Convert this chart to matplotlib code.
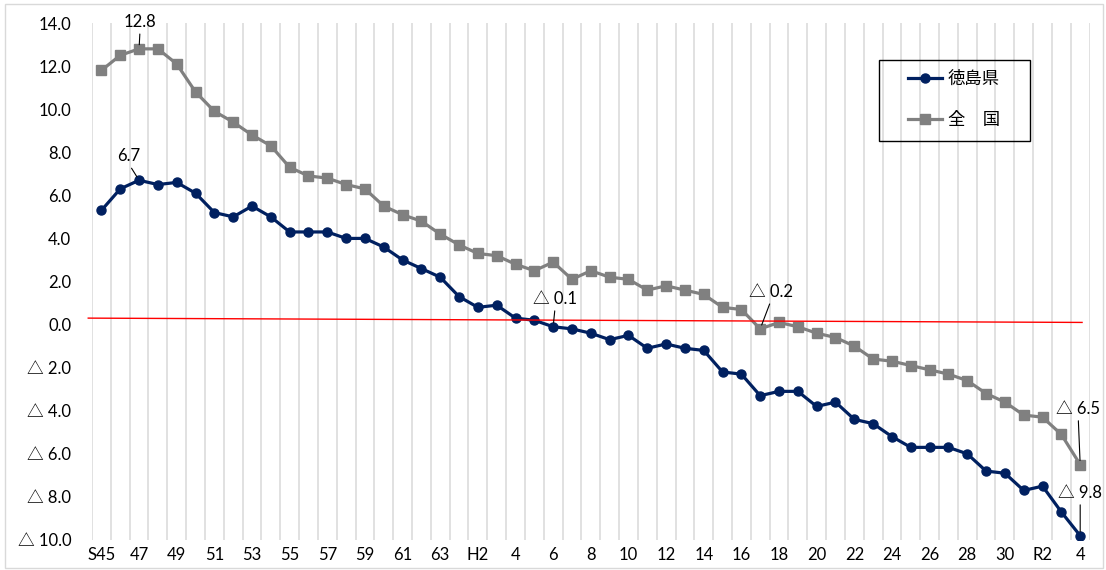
import matplotlib
matplotlib.use("Agg")
import matplotlib.pyplot as plt
from matplotlib.patches import Rectangle
from matplotlib.lines import Line2D

plt.rcParams['font.family'] = ['Lato', 'Noto Sans CJK JP', 'DejaVu Sans']

# ---- data ----
categories = (['S%d' % y for y in range(45, 64)] +
              ['H%d' % y for y in range(1, 31)] +
              ['R%d' % y for y in range(1, 5)])
tick_labels = ['S45', '47', '49', '51', '53', '55', '57', '59', '61', '63',
               'H2', '4', '6', '8', '10', '12', '14', '16', '18', '20', '22',
               '24', '26', '28', '30', 'R2', '4']
tokushima = [5.3, 6.3, 6.7, 6.5, 6.6, 6.1, 5.2, 5.0, 5.5, 5.0,
             4.3, 4.3, 4.3, 4.0, 4.0, 3.6, 3.0, 2.6, 2.2,
             1.3, 0.8, 0.9, 0.3, 0.2, -0.1, -0.2, -0.4, -0.7, -0.5,
             -1.1, -0.9, -1.1, -1.2, -2.2, -2.3, -3.3, -3.1, -3.1, -3.8,
             -3.6, -4.4, -4.6, -5.2, -5.7, -5.7, -5.7, -6.0, -6.8, -6.9,
             -7.7, -7.5, -8.7, -9.8]
national = [11.8, 12.5, 12.8, 12.8, 12.1, 10.8, 9.9, 9.4, 8.8, 8.3,
            7.3, 6.9, 6.8, 6.5, 6.3, 5.5, 5.1, 4.8, 4.2,
            3.7, 3.3, 3.2, 2.8, 2.5, 2.9, 2.1, 2.5, 2.2, 2.1,
            1.6, 1.8, 1.6, 1.4, 0.8, 0.7, -0.2, 0.1, -0.1, -0.4,
            -0.6, -1.0, -1.6, -1.7, -1.9, -2.1, -2.3, -2.6, -3.2, -3.6,
            -4.2, -4.3, -5.1, -6.5]
series_names = ['徳島県', '全\u3000国']
y_ticks = [14, 12, 10, 8, 6, 4, 2, 0, -2, -4, -6, -8, -10]
# annotations: (series, index, text, offset in pixels)
annotations = [
    ('national', 2, '12.8', (1, 27)),
    ('tokushima', 2, '6.7', (-10, 24)),
    ('tokushima', 24, '△ 0.1', (2, 28)),
    ('national', 35, '△ 0.2', (11, 37)),
    ('national', 52, '△ 6.5', (-2, 56)),
    ('tokushima', 52, '△ 9.8', (0, 43)),
]

NAVY = '#002060'
GRAY = '#808080'
FS = 12

fig = plt.figure(figsize=(11.06, 5.70), dpi=100)
ax = fig.add_axes([92 / 1106, 1 - 540 / 570, (1089.6 - 92) / 1106, (540 - 23) / 570])

x = list(range(len(categories)))
ax.plot(x, national, color=GRAY, lw=2.3, marker='s', ms=7, zorder=3)
ax.plot(x, tokushima, color=NAVY, lw=2.3, marker='o', ms=6.5, zorder=4)

# red reference line
ax.plot([-0.7, 52.1], [0.3, 0.1], color='#ff0000', lw=1.0, zorder=5, clip_on=False)

ax.set_xlim(-0.5, len(categories) - 0.5)
ax.set_ylim(-10, 14)
for k in range(len(categories) + 1):
    ax.axvline(k - 0.5, color='#dedede', lw=1.3, zorder=0)

ax.set_xticks(x[::2])
ax.set_xticklabels(tick_labels, fontsize=FS)
ax.set_yticks(y_ticks)
ax.set_yticklabels([('%.1f' % v) if v >= 0 else ('△ %.1f' % -v) for v in y_ticks], fontsize=FS)
ax.tick_params(length=0)
ax.tick_params(axis='y', pad=15)
ax.tick_params(axis='x', pad=5)
for s in ax.spines.values():
    s.set_visible(False)

data = {'tokushima': tokushima, 'national': national}
for ser, idx, txt, off in annotations:
    ax.annotate(txt, xy=(idx, data[ser][idx]), xytext=off, textcoords='offset pixels',
                ha='center', va='center', fontsize=FS, zorder=6,
                arrowprops=dict(arrowstyle='-', color='black', lw=0.8,
                                shrinkA=1, shrinkB=3, relpos=(0.5, 0.0)))

# legend
handles = [Line2D([], [], color=NAVY, lw=2.3, marker='o', ms=6.5),
           Line2D([], [], color=GRAY, lw=2.3, marker='s', ms=7)]
leg = fig.legend(handles, series_names, loc='upper left',
                 bbox_to_anchor=(908 / 1106, 1 - 70 / 570), frameon=False,
                 borderpad=0, borderaxespad=0, handlelength=1.95, handletextpad=0.35,
                 labelspacing=1.35, prop={'family': ['Noto Sans CJK JP'], 'size': 12.5})
fig.patches.append(Rectangle((879 / 1106, 1 - 141 / 570), 151 / 1106, 81 / 570,
                             transform=fig.transFigure, fill=False, edgecolor='black', lw=1.0))

# outer border
fig.patches.append(Rectangle((5 / 1106, 2 / 570), 1098 / 1106, 564 / 570,
                             transform=fig.transFigure, fill=False, edgecolor='#d9d9d9', lw=1.0))

fig.savefig('out.png', dpi=100)
